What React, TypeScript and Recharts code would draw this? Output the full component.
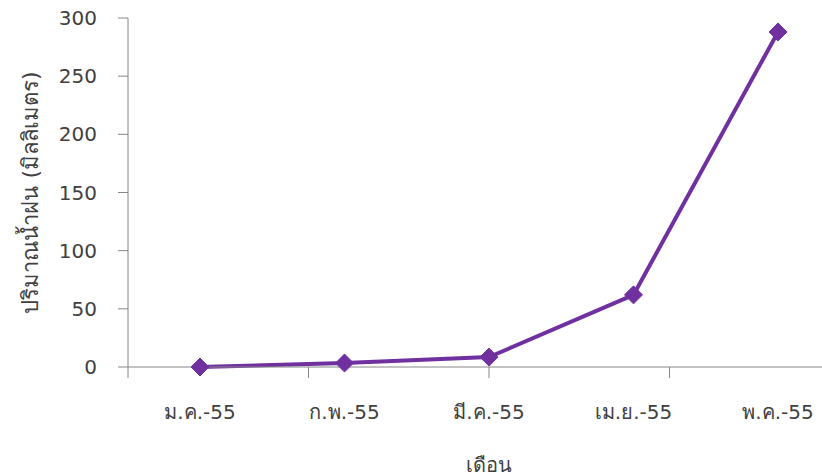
import { LineChart, Line, XAxis, YAxis, Label } from "recharts";

// Rainfall by month (Thai year 2555)
const months = ["ม.ค.-55", "ก.พ.-55", "มี.ค.-55", "เม.ย.-55", "พ.ค.-55"];
const rainfall = [0, 3.4, 8.5, 62, 288];
const yTicks = [0, 50, 100, 150, 200, 250, 300];
const bandEdges = [0, 1, 2, 3, 4, 5];

const data = months.map((m, i) => ({ month: m, rain: rainfall[i] }));

const purple = "#7030A0";
const axisGray = "#868686";
const textColor = "#404040";
const font = "Tahoma, 'DejaVu Sans', sans-serif";

const Diamond = (props: any) => {
  const { cx, cy } = props;
  if (cx == null || cy == null) return null;
  const r = 9;
  return (
    <path
      d={`M${cx},${cy - r} L${cx + r},${cy} L${cx},${cy + r} L${cx - r},${cy} Z`}
      fill={purple}
      stroke={purple}
      strokeWidth={1}
      strokeLinejoin="round"
    />
  );
};

const App = () => {
  return (
    <div style={{ width: 822, height: 476, overflow: "hidden", background: "#fff" }}>
      <style>{`body{margin:0;overflow:hidden}`}</style>
      <LineChart
        width={860}
        height={476}
        data={data}
        margin={{ top: 18, right: 10, left: 0, bottom: 0 }}
      >
        {/* axis line + tick marks between the months, like category boundaries */}
        <XAxis
          xAxisId={0}
          type="number"
          domain={[0, 5]}
          allowDataOverflow
          ticks={bandEdges}
          interval={0}
          height={1}
          tickFormatter={() => ""}
          tickSize={11}
          stroke={axisGray}
        />
        <XAxis
          xAxisId="months"
          dataKey="month"
          height={108}
          padding={{ left: 72, right: 72 }}
          axisLine={false}
          tickLine={false}
          tickSize={11}
          tickMargin={26}
          tick={{ fill: textColor, fontSize: 20, fontFamily: font }}
        >
          <Label
            value="เดือน"
            position="insideBottom"
            offset={4}
            style={{ fill: textColor, fontSize: 20, fontFamily: font }}
          />
        </XAxis>
        <YAxis
          width={128}
          domain={[0, 300]}
          ticks={yTicks}
          interval={0}
          stroke={axisGray}
          tickSize={10}
          tickMargin={21}
          tick={{ fill: textColor, fontSize: 20, fontFamily: font }}
        >
          <Label
            value="ปริมาณน้ำฝน (มิลลิเมตร)"
            angle={-90}
            position="insideLeft"
            offset={30}
            style={{ textAnchor: "middle", fill: textColor, fontSize: 22, fontFamily: font }}
          />
        </YAxis>
        <Line
          xAxisId="months"
          type="linear"
          dataKey="rain"
          stroke={purple}
          strokeWidth={4}
          dot={<Diamond />}
          activeDot={false}
          isAnimationActive={false}
        />
      </LineChart>
    </div>
  );
};

export default App;
